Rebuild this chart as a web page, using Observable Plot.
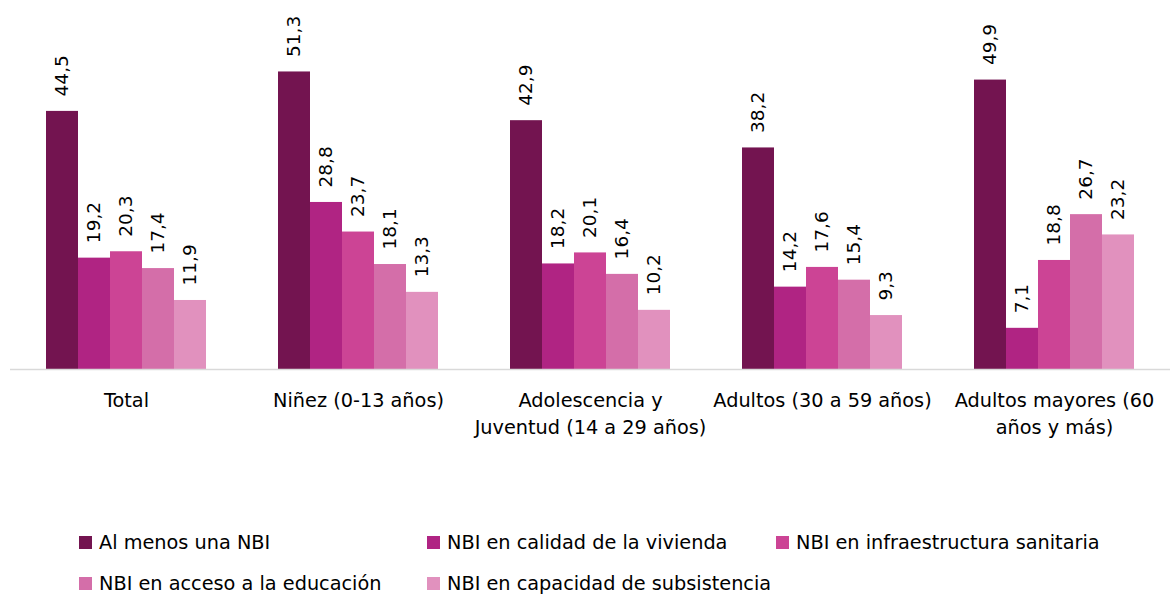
<!DOCTYPE html>
<html>
<head>
<meta charset="utf-8">
<script src="https://cdn.jsdelivr.net/npm/d3@7"></script>
<script src="https://cdn.jsdelivr.net/npm/@observablehq/plot@0.6"></script>
<style>
  body { margin: 0; background: #fff; font-family: "DejaVu Sans", sans-serif; }
  #wrap { position: relative; width: 1170px; height: 597px; }
  #legend { position: absolute; left: 0; top: 0; width: 1170px; height: 597px; pointer-events: none; }
  .item { position: absolute; display: flex; align-items: center; font-size: 19.3px; color: #000; white-space: nowrap; height: 24px; }
  .sw { width: 13px; height: 13px; margin-right: 7px; }
</style>
</head>
<body>
<div id="wrap"><div id="chart"></div><div id="legend"></div></div>
<script>
const groups = ["Total", "Niñez (0-13 años)", "Adolescencia y Juventud (14 a 29 años)", "Adultos (30 a 59 años)", "Adultos mayores (60 años y más)"];
const groupLabels = ["Total", "Niñez (0-13 años)", "Adolescencia y\nJuventud (14 a 29 años)", "Adultos (30 a 59 años)", "Adultos mayores (60\naños y más)"];
const series = ["Al menos una NBI", "NBI en calidad de la vivienda", "NBI en infraestructura sanitaria", "NBI en acceso a la educación", "NBI en capacidad de subsistencia"];
const colors = ["#731450", "#B02483", "#CC4495", "#D46EA9", "#E191BE"];
const alMenosUna = [44.5, 51.3, 42.9, 38.2, 49.9];
const calidadVivienda = [19.2, 28.8, 18.2, 14.2, 7.1];
const infraSanitaria = [20.3, 23.7, 20.1, 17.6, 18.8];
const accesoEducacion = [17.4, 18.1, 16.4, 15.4, 26.7];
const capSubsistencia = [11.9, 13.3, 10.2, 9.3, 23.2];
const valuesBySeries = [alMenosUna, calidadVivienda, infraSanitaria, accesoEducacion, capSubsistencia];

const data = [];
groups.forEach((g, gi) => series.forEach((s, si) => data.push({group: g, series: s, value: valuesBySeries[si][gi]})));
const fmt = v => v.toFixed(1).replace(".", ",");

const chart = Plot.plot({
  width: 1170,
  height: 450,
  marginLeft: 10,
  marginRight: 0,
  marginTop: 21,
  marginBottom: 81,
  style: {fontFamily: "'DejaVu Sans', sans-serif", color: "#000"},
  fx: {domain: groups, padding: 0, label: null},
  x: {domain: series, paddingInner: 0, paddingOuter: 1.05, axis: null},
  y: {domain: [0, 60], axis: null},
  color: {domain: series, range: colors},
  marks: [
    Plot.barY(data, {fx: "group", x: "series", y: "value", fill: "series"}),
    Plot.text(data, {fx: "group", x: "series", y: "value", text: d => fmt(d.value), rotate: -90, textAnchor: "start", dy: -15, fontSize: 18.5, fill: "#000"}),
    Plot.ruleY([0], {stroke: "#D9D9D9", strokeWidth: 1.5}),
    Plot.axisFx({anchor: "bottom", tickSize: 0, tickPadding: 18, fontSize: 19.3, lineHeight: 1.4, tickFormat: g => groupLabels[groups.indexOf(g)], label: null})
  ]
});
document.getElementById("chart").appendChild(chart);

const legendPos = [[79, 542], [427, 542], [776, 542], [79, 583], [427, 583]];
const legend = document.getElementById("legend");
series.forEach((s, i) => {
  const it = document.createElement("div");
  it.className = "item";
  it.style.left = legendPos[i][0] + "px";
  it.style.top = (legendPos[i][1] - 12) + "px";
  it.innerHTML = `<span class="sw" style="background:${colors[i]}"></span><span>${s}</span>`;
  legend.appendChild(it);
});
</script>
</body>
</html>
